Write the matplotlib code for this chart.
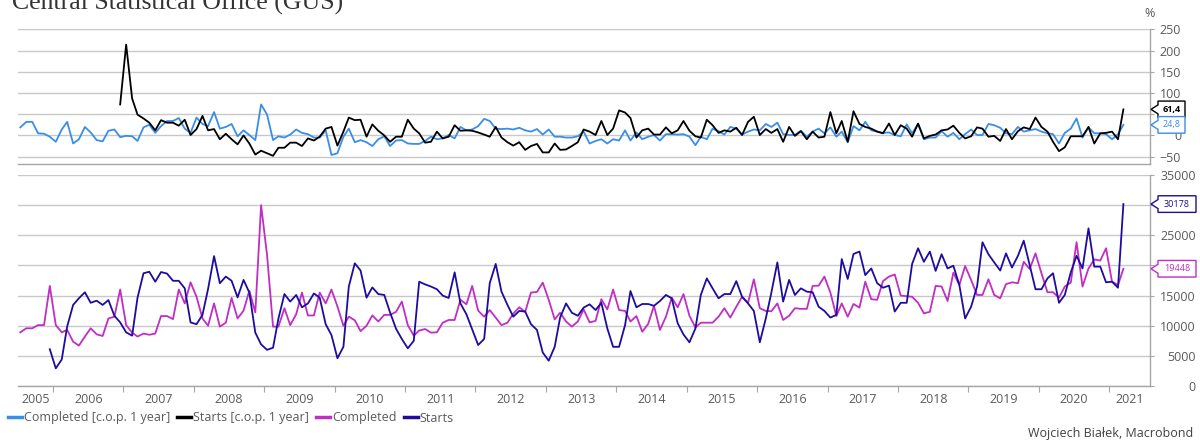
"""
Poland housing: dwellings completed and started (GUS), levels and y/y change.
Two stacked panels, right-hand axes, Macrobond-like styling.
"""
import matplotlib
matplotlib.use("Agg")
import matplotlib.pyplot as plt
import matplotlib.dates as mdates
from matplotlib.patches import Polygon
from matplotlib.lines import Line2D
import pandas as pd

W, H = 1200, 443
BLUE = "#3a8ee8"
BLACK = "#000000"
MAGENTA = "#c02ec4"
NAVY = "#1e0c9e"
GRID = "#c8c8c8"
SPINE = "#a6a6a6"
TXT = "#5a5a5a"

plt.rcParams["font.family"] = ["Open Sans", "DejaVu Sans"]

# ---- data (monthly) ------------------------------------------------------
# dwellings completed, from 2005-07
completed = [
    8900, 9570, 9570, 10100, 10100, 16600,
    10100, 8900, 9300, 7350, 6700, 8200, 9570, 8570, 8300, 11200, 11500, 16000,
    10100, 8850, 8200, 8700, 8500, 8700, 11600, 11600, 11100, 16000, 13700, 17200,
    14800, 11200, 10000, 13700, 9850, 10500, 14600, 11200, 12500, 15800, 12200, 30000,
    21700, 9850, 9850, 12900, 10100, 11900, 15500, 11700, 11700, 15500, 13700, 16000,
    13200, 10000, 11500, 10900, 9100, 10000, 11700, 10700, 11800, 11800, 12300, 14000,
    10100, 8350, 9200, 9450, 8850, 8900, 10500, 10950, 10950, 14300, 13550, 16600,
    12500, 11500, 12600, 11350, 10100, 10500, 12000, 13050, 12300, 15500, 15600, 17150,
    14300, 11050, 12150, 10700, 9850, 10700, 12700, 10550, 10800, 14400, 12700, 16000,
    12600, 12450, 10700, 11600, 9000, 10300, 13300, 9300, 11500, 14650, 13050, 15250,
    11650, 9700, 10500, 10500, 10500, 11500, 12900, 11350, 13150, 14800, 13800, 17700,
    12900, 12450, 12400, 13700, 10950, 11650, 12900, 12800, 12800, 16600, 16650, 18150,
    15500, 11600, 13700, 11500, 13600, 13000, 17300, 14400, 14300, 17400, 18150, 18500,
    15000, 14900, 14800, 13800, 12050, 12300, 16600, 16500, 14100, 18800, 16750, 19900,
    17600, 15100, 15100, 17700, 15100, 14550, 16900, 17200, 17050, 20600, 19400, 22000,
    18700, 15550, 15550, 14650, 16500, 17150, 23850, 16500, 19500, 21000, 20800, 22850,
    17300, 16750, 19448,
]
# dwellings started, from 2005-12
starts = [
    6100,
    2930, 4400, 9850, 13450, 14550, 15550, 13800, 14150, 13450, 14250, 11650, 10550,
    8900, 8350, 14650, 18700, 18950, 17300, 18900, 18650, 17450, 17450, 16200, 10550,
    10250, 11800, 16100, 21550, 17050, 18150, 17450, 14700, 17600, 15500, 8850, 6900,
    6000, 6350, 11200, 15250, 14000, 15100, 13050, 13700, 15350, 14650, 10250, 8450,
    4600, 6500, 16500, 20350, 19150, 14650, 16350, 15250, 15100, 12200, 9500, 7800,
    6250, 7500, 17300, 16850, 16500, 16050, 15000, 14600, 18850, 13700, 11900, 9400,
    6800, 7800, 17050, 20250, 15650, 13450, 11500, 12450, 12350, 10250, 9300, 5550,
    4200, 6500, 11350, 13700, 12150, 11650, 13000, 13550, 12600, 13800, 9550, 6500,
    6500, 10100, 15750, 13050, 13600, 13600, 13300, 14100, 15100, 14550, 10400, 8550,
    7250, 9550, 15100, 17850, 16200, 14550, 15250, 15250, 17400, 14800, 13700, 12450,
    7250, 11200, 15500, 20500, 14000, 17600, 15100, 16200, 15650, 15550, 13150, 12450,
    11350, 11800, 21050, 17750, 21900, 22300, 18400, 19500, 17050, 16300, 16650, 12350,
    13800, 13800, 20250, 22850, 20600, 22300, 19100, 21850, 19500, 19950, 16750, 11200,
    13150, 16500, 23850, 21850, 20500, 19150, 22000, 19650, 21600, 24100, 20050, 16050,
    16050, 17850, 18700, 13800, 15100, 18850, 21600, 19500, 26150, 19800, 19800, 17200,
    17300, 16300, 30178,
]
# completed, % change over 1 year, from 2005-07
completed_yoy = [
    19, 32, 32, 5, 4, -3,
    -15, 14, 32, -19, -9, 20, 7, -11, -14, 11, 14, -4,
    -1, -2, -13, 19, 25, 6, 22, 34, 34, 41, 16, 6,
    42, 27, 22, 55, 16, 20, 27, -2, 12, 1, -11, 73,
    49, -11, -2, -5, 2, 14, 6, 3, -5, -5, 12, -46,
    -42, -3, 16, -16, -11, -16, -25, -9, -2, -25, -12, -11,
    -19, -20, -20, -13, -3, -9, -7, 1, -7, 20, 12, 14,
    22, 39, 34, 16, 15, 16, 14, 18, 12, 9, 15, 2,
    14, -3, -3, -5, -5, -2, 9, -19, -13, -9, -19, -9,
    -12, 12, -12, 7, -9, -3, 1, -12, 3, 3, 2, 3,
    -3, -23, -3, -9, 16, 10, 2, 20, 16, 2, 9, 14,
    12, 27, 20, 30, 3, 1, 1, 11, -3, 9, 16, 5,
    19, -3, 9, -16, 22, 12, 32, 12, 9, 6, 7, 1,
    -2, 26, 5, 27, -9, -5, -5, 10, -3, 6, -9, 3,
    14, 1, 1, 27, 24, 18, 5, 3, 20, 9, 12, 15,
    9, 5, 3, -19, 6, 16, 40, -5, 19, 5, 5, 3,
    -9, 3, 24.8,
]
# starts, % change over 1 year, from 2006-12
starts_yoy = [
    73,
    214, 87, 49, 40, 30, 12, 36, 30, 30, 23, 37, 1,
    15, 46, 12, 15, -9, 4, -9, -21, 0, -19, -45, -36,
    -42, -48, -29, -29, -17, -17, -25, -7, -12, -3, 16, 20,
    -24, 9, 42, 36, 37, -3, 26, 11, 0, -15, -3, -3,
    37, 16, 5, -17, -15, 9, -7, -3, 24, 11, 12, 11,
    7, 2, -3, 20, -5, -16, -24, -16, -34, -25, -20, -40,
    -40, -19, -34, -33, -25, -16, 14, 9, 1, 34, 1, 16,
    59, 54, 41, -5, 12, 16, 2, 2, 19, 5, 12, 34,
    11, -2, -5, 37, 24, 6, 12, 9, 18, 1, 32, 44,
    1, 15, 6, 15, -15, 20, -1, 10, -9, 9, -5, -3,
    55, 5, 34, -15, 57, 27, 20, 16, 9, 5, 28, 1,
    24, 16, -3, 28, -7, -1, 2, 12, 14, 23, 6, -7,
    -2, 19, 16, -3, -1, -13, 15, -9, 10, 19, 15, 42,
    20, 9, -15, -37, -28, -2, -2, -2, 20, -19, 5, 6,
    9, -9, 61.4,
]
yoy_ticks = [-50, 0, 50, 100, 150, 200, 250]
level_ticks = [0, 5000, 10000, 15000, 20000, 25000, 30000, 35000]
years = list(range(2005, 2022))


def monthly(start, values):
    return pd.date_range(start, periods=len(values), freq="MS") + pd.Timedelta(days=14)


def box(l, t, r, b):
    return [l / W, 1 - b / H, (r - l) / W, (b - t) / H]


def style(ax, ticks, pad):
    for s in ("top", "left"):
        ax.spines[s].set_visible(False)
    for s in ("right", "bottom"):
        ax.spines[s].set_color(SPINE)
        ax.spines[s].set_linewidth(1.0)
    ax.yaxis.tick_right()
    ax.set_yticks(ticks)
    ax.tick_params(axis="y", which="major", length=3, color=SPINE, labelsize=9,
                   labelcolor=TXT, pad=pad)
    for t in ax.yaxis.get_major_ticks():
        t.label2.set_horizontalalignment("right")
    ax.grid(axis="y", color=GRID, lw=1.0)
    ax.set_axisbelow(True)


def ypix_of(ax, value):
    return H - ax.transData.transform((ax.get_xlim()[1], value))[1]


def callout(ax, value, label, col, right, bold=False):
    ypix = ypix_of(ax, value)
    x0, tip, h, n = 1158, 1151, 16.6, 4.5
    pts = [(x0, ypix - h / 2), (right, ypix - h / 2), (right, ypix + h / 2), (x0, ypix + h / 2),
           (x0, ypix + n), (tip, ypix), (x0, ypix - n)]
    pts = [(x / W, 1 - y / H) for x, y in pts]
    fig.add_artist(Polygon(pts, closed=True, fc="white", ec=col, lw=1.0,
                           transform=fig.transFigure, zorder=5))
    fig.text((x0 + right) / 2 / W, 1 - ypix / H, label, ha="center", va="center",
             color=col, fontsize=6.5, fontweight="bold" if bold else "normal", zorder=6)
    # tick labels hidden behind the box
    for t, v in zip(ax.yaxis.get_major_ticks(), ax.get_yticks()):
        if abs(ypix_of(ax, v) - ypix) < h / 2 + 2:
            t.label2.set_visible(False)


fig = plt.figure(figsize=(W / 100, H / 100), dpi=100)
ax1 = fig.add_axes(box(18, 29.3, 1150, 164.3))
ax2 = fig.add_axes(box(18, 175, 1150, 386))

xmin, xmax = pd.Timestamp("2005-07-03"), pd.Timestamp("2021-07-31")

# top panel: y/y %
ax1.plot(monthly("2005-07-01", completed_yoy), completed_yoy, color=BLUE, lw=1.3)
ax1.plot(monthly("2006-12-01", starts_yoy), starts_yoy, color=BLACK, lw=1.3)
ax1.set_ylim(-68, 250)
ax1.set_xlim(xmin, xmax)
style(ax1, yoy_ticks, 19.5)
ax1.set_xticks([])

# bottom panel: levels
ax2.plot(monthly("2005-07-01", completed), completed, color=MAGENTA, lw=1.3)
ax2.plot(monthly("2005-12-01", starts), starts, color=NAVY, lw=1.3)
ax2.set_ylim(0, 35000)
ax2.set_xlim(xmin, xmax)
style(ax2, level_ticks, 30)

# year ticks on boundaries, labels centred in the visible part of each year
lo, hi = mdates.date2num(xmin), mdates.date2num(xmax)
bounds = [mdates.date2num(pd.Timestamp(f"{y}-01-01")) for y in years[1:]]
centres = []
for y in years:
    a = max(mdates.date2num(pd.Timestamp(f"{y}-01-01")), lo)
    b = min(mdates.date2num(pd.Timestamp(f"{y + 1}-01-01")), hi)
    centres.append((a + b) / 2)
ax2.set_xticks(bounds)
ax2.set_xticklabels([])
ax2.set_xticks(centres, minor=True)
ax2.set_xticklabels([str(y) for y in years], minor=True)
ax2.tick_params(axis="x", which="major", length=4, color=SPINE, direction="out")
ax2.tick_params(axis="x", which="minor", length=0, labelsize=9, labelcolor=TXT, pad=5)

# value callouts on the right
callout(ax1, starts_yoy[-1], f"{starts_yoy[-1]:.1f}".replace(".", ","), BLACK, 1185, bold=True)
callout(ax1, completed_yoy[-1], f"{completed_yoy[-1]:.1f}".replace(".", ","), BLUE, 1185)
callout(ax2, starts[-1], str(starts[-1]), NAVY, 1196)
callout(ax2, completed[-1], str(completed[-1]), MAGENTA, 1196)

fig.text(1150 / W, 1 - 13.3 / H, "%", ha="center", va="center", fontsize=9, color=TXT)
fig.text(12 / W, 1 - 10 / H, "Central Statistical Office (GUS)", ha="left", va="baseline",
         fontsize=18.5, color="#333333", family="Liberation Serif")
fig.text(1193 / W, 1 - 433 / H, "Wojciech Białek, Macrobond", ha="right", va="center",
         fontsize=9, color="#404040")

handles = [Line2D([], [], color=c, lw=2.5) for c in (BLUE, BLACK, MAGENTA, NAVY)]
labels = ["Completed [c.o.p. 1 year]", "Starts [c.o.p. 1 year]", "Completed", "Starts"]
fig.legend(handles, labels, loc="center left", bbox_to_anchor=(8 / W, 1 - 418 / H),
           ncol=4, frameon=False, fontsize=9, labelcolor=TXT, handlelength=1.1,
           handletextpad=0.15, columnspacing=0.6, borderpad=0, borderaxespad=0)

fig.savefig("out.png", dpi=100, facecolor="white")
